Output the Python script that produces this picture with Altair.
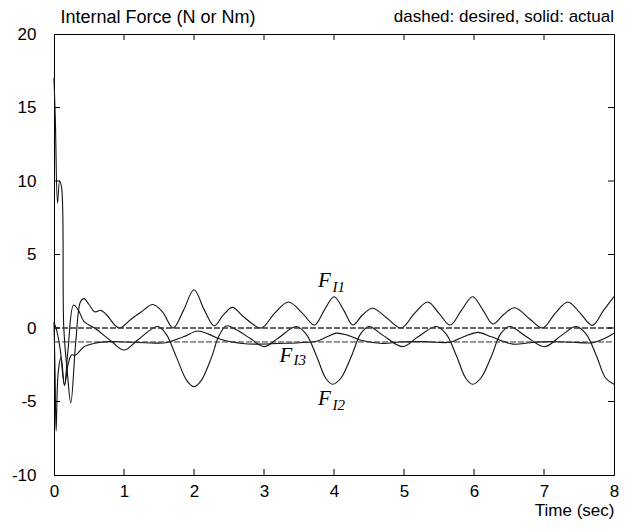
import altair as alt
import pandas as pd

# ---- actual internal forces (solid) ----
t_f1 = [0, 0.02, 0.05, 0.08, 0.11, 0.14, 0.19, 0.24, 0.31, 0.38, 0.43, 0.5, 0.58, 0.67, 0.75, 0.93,
        1.1, 1.25, 1.41, 1.55, 1.7, 1.85, 2.0, 2.15, 2.29, 2.42, 2.55, 2.7, 2.96, 3.15, 3.35, 3.55,
        3.72, 3.86, 4.0, 4.14, 4.27, 4.41, 4.55, 4.75, 4.96, 5.15, 5.34, 5.5, 5.66, 5.82, 5.98,
        6.13, 6.27, 6.42, 6.58, 6.8, 6.98, 7.16, 7.34, 7.52, 7.69, 7.85, 8.0]
v_f1 = [17.0, 14.0, 8.5, 10.0, 9.5, 0.0, -3.0, -5.1, -1.0, 1.8, 2.0, 1.6, 1.1, 1.2, 0.9, 0.0,
        0.6, 1.1, 1.6, 1.1, 0.0, 1.2, 2.6, 1.2, 0.15, 0.9, 1.4, 0.8, 0.0, 1.0, 1.77, 1.0,
        0.2, 1.2, 2.13, 1.2, 0.2, 0.9, 1.34, 0.7, 0.0, 1.0, 1.77, 1.0, 0.2, 1.2, 2.13,
        1.2, 0.27, 0.9, 1.38, 0.6, 0.0, 1.0, 1.77, 1.0, 0.18, 1.2, 2.13]

t_f2 = [0, 0.015, 0.03, 0.06, 0.1, 0.15, 0.2, 0.28, 0.35, 0.43, 0.58, 0.82, 1.0, 1.2, 1.48,
        1.6, 1.75, 1.9, 2.0, 2.1, 2.25, 2.35, 2.46, 2.6, 2.8, 3.0, 3.2, 3.46,
        3.6, 3.75, 3.88, 3.98, 4.1, 4.25, 4.38, 4.5, 4.7, 4.98, 5.2, 5.46,
        5.6, 5.75, 5.88, 5.98, 6.1, 6.25, 6.38, 6.51, 6.75, 7.01, 7.25, 7.46,
        7.6, 7.75, 7.88, 8.0]
v_f2 = [0.4, -3.0, -7.0, -3.0, -2.0, -3.9, -1.5, 1.56, 1.2, 0.43, 0.0, -0.9, -1.5, -0.8, 0.1,
        -0.4, -2.0, -3.6, -4.0, -3.6, -2.0, -0.6, 0.14, -0.1, -0.7, -1.27, -0.7, 0.1,
        -0.4, -1.9, -3.4, -3.83, -3.4, -1.9, -0.4, 0.1, -0.5, -1.27, -0.6, 0.1,
        -0.4, -1.9, -3.4, -3.83, -3.4, -1.9, -0.4, 0.1, -0.6, -1.27, -0.5, 0.1,
        -0.4, -1.9, -3.4, -3.83]

t_f3 = [0, 0.04, 0.09, 0.15, 0.2, 0.25, 0.31, 0.43, 0.58, 0.8, 1.0, 1.3, 1.6, 1.85, 2.05,
        2.2, 2.4, 2.69, 2.9, 3.2, 3.5, 3.75, 3.9, 4.03, 4.2, 4.4, 4.7, 4.94, 5.3, 5.66,
        5.85, 6.06, 6.25, 6.56, 6.8, 7.1, 7.4, 7.7, 7.85, 8.0]
v_f3 = [0.4, -0.2, -1.5, -3.9, -2.5, -1.84, -1.84, -1.27, -1.04, -0.93, -0.95, -1.0, -1.0, -0.6, -0.2,
        -0.4, -0.8, -1.05, -1.1, -1.05, -1.0, -0.9, -0.6, -0.35, -0.5, -0.85, -1.05, -0.95, -0.93, -0.97,
        -0.6, -0.3, -0.6, -1.1, -1.0, -0.93, -0.97, -1.0, -0.75, -0.36]

# ---- desired internal forces (dashed) ----
t_des = [0, 8]
v_d1 = [0.0, 0.0]
v_d2 = [0.0, 0.0]
v_d3 = [-0.95, -0.95]

# ---- labels ----
lab_main = ["F", "F", "F"]
lab_sub = ["I1", "I2", "I3"]
lab_t = [3.77, 3.77, 3.22]
lab_v = [2.81, -5.24, -2.29]
sub_t = [3.98, 3.98, 3.42]
sub_v = [2.45, -5.58, -2.55]
legend_note = ["dashed: desired, solid: actual"]

# ---- ticks ----
x_ticks = [1, 2, 3, 4, 5, 6, 7]
y_ticks = [-5, 0, 5, 10, 15]

rows = []
for name, ts, vs in [("FI1", t_f1, v_f1), ("FI2", t_f2, v_f2), ("FI3", t_f3, v_f3)]:
    rows += [{"series": name, "t": a, "v": b} for a, b in zip(ts, vs)]
actual = pd.DataFrame(rows)

rows = []
for name, vs in [("FI1d", v_d1), ("FI2d", v_d2), ("FI3d", v_d3)]:
    rows += [{"series": name, "t": a, "v": b} for a, b in zip(t_des, vs)]
desired = pd.DataFrame(rows)

main_df = pd.DataFrame({"t": lab_t, "v": lab_v, "s": lab_main})
sub_df = pd.DataFrame({"t": sub_t, "v": sub_v, "s": lab_sub})
note_df = pd.DataFrame({"s": legend_note})

xs = alt.Scale(domain=[0, 8], nice=False, zero=False)
ys = alt.Scale(domain=[-10, 20], nice=False, zero=False)

X = alt.X("t:Q", scale=xs, axis=alt.Axis(
    values=list(range(9)), title="Time (sec)", titleX=560, titleY=40,
    titleAlign="right", titleBaseline="alphabetic", titleFontSize=17, labelPadding=8,
    labelExpr="'' + datum.value"))
Y = alt.Y("v:Q", scale=ys, axis=alt.Axis(
    values=[-10, -5, 0, 5, 10, 15, 20], title="Internal Force (N or Nm)",
    titleAngle=0, titleX=6, titleY=-12, titleAlign="left", titleFontSize=18,
    titleBaseline="alphabetic", labelPadding=18,
    labelExpr="'' + datum.value"))

act = alt.Chart(actual).mark_line(interpolate="catmull-rom", color="#111", strokeWidth=1.1).encode(
    x=X, y=Y, detail="series:N")
des = alt.Chart(desired).mark_line(color="#333", strokeWidth=1, strokeDash=[6, 2]).encode(
    x="t:Q", y="v:Q", detail="series:N")

txt_main = alt.Chart(main_df).mark_text(font="Liberation Serif", fontStyle="italic", fontSize=21,
                                         align="left", baseline="alphabetic", color="black").encode(
    x="t:Q", y="v:Q", text="s:N")
txt_sub = alt.Chart(sub_df).mark_text(font="Liberation Serif", fontStyle="italic", fontSize=15,
                                       align="left", baseline="alphabetic", color="black").encode(
    x="t:Q", y="v:Q", text="s:N")
txt_note = alt.Chart(note_df).mark_text(font="Liberation Sans", fontSize=17, align="right",
                                         baseline="alphabetic", color="black").encode(
    x=alt.value(560), y=alt.value(-12), text="s:N")

# inward ticks on all four sides
xt = pd.DataFrame({"t": x_ticks})
yt = pd.DataFrame({"v": y_ticks})
tick_bottom = alt.Chart(xt).mark_rule(color="black", strokeWidth=1).encode(
    x="t:Q", y=alt.value(441), y2=alt.value(435))
tick_top = alt.Chart(xt).mark_rule(color="black", strokeWidth=1).encode(
    x="t:Q", y=alt.value(0), y2=alt.value(6))
tick_left = alt.Chart(yt).mark_rule(color="black", strokeWidth=1).encode(
    y="v:Q", x=alt.value(0), x2=alt.value(6))
tick_right = alt.Chart(yt).mark_rule(color="black", strokeWidth=1).encode(
    y="v:Q", x=alt.value(560), x2=alt.value(554))

chart = alt.layer(act, des, tick_bottom, tick_top, tick_left, tick_right,
                  txt_main, txt_sub, txt_note).properties(
    width=560, height=441,
    autosize=alt.AutoSizeParams(type="none"),
    padding={"left": 54, "top": 34, "right": 18, "bottom": 54},
).configure_view(stroke="black", strokeWidth=1).configure_axis(
    grid=False, ticks=False, domainColor="black", domainWidth=1,
    labelFont="Liberation Sans", labelFontSize=17, labelColor="black",
    labelFlush=False, labelOverlap=False,
    titleFont="Liberation Sans", titleFontSize=16, titleFontWeight="normal", titleColor="black")

chart.save("out.html", embed_options={"renderer": "svg", "actions": False})
